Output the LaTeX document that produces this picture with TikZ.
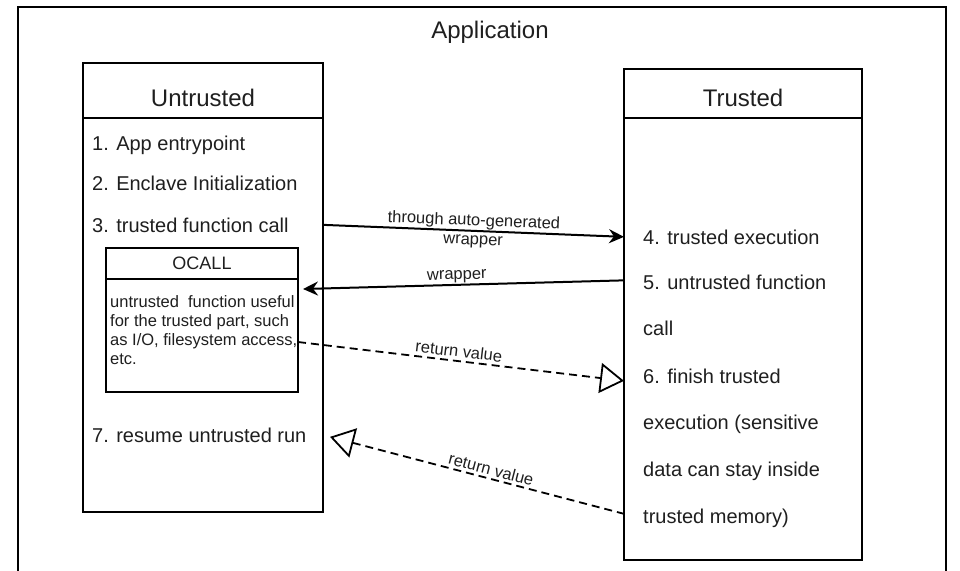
\documentclass[tikz,border=0pt]{standalone}
\usepackage{fontspec}
\setmainfont{Liberation Sans}
\usetikzlibrary{arrows.meta,calc}
\begin{document}
\begin{tikzpicture}[x=1pt,y=-1pt,
  every node/.style={text=black!88},
  box/.style={draw=black,line width=2pt,rectangle,inner sep=0pt,outer sep=0pt,anchor=north west},
  head/.style={font=\fontsize{24}{28}\selectfont,anchor=base,inner sep=0pt},
  item/.style={font=\fontsize{20}{24}\selectfont,anchor=base west,inner sep=0pt},
  small/.style={font=\fontsize{16.5}{19}\selectfont},
  solidarr/.style={line width=2pt,-{Stealth[length=15pt,width=14pt,inset=5pt]}},
  solidarrL/.style={line width=2pt,{Stealth[length=15pt,width=14pt,inset=5pt]}-},
  dasharrL/.style={line width=1.8pt,dash pattern=on 8pt off 5pt,{Triangle[fill=white,length=24pt,width=30pt]}-},
  dasharr/.style={line width=1.8pt,dash pattern=on 8pt off 5pt,-{Triangle[fill=white,length=24pt,width=30pt]}},
  lbl/.style={font=\fontsize{16.5}{19}\selectfont,sloped,inner sep=1pt}
]
\useasboundingbox (0,0) rectangle (960,570);
\fill[white] (0,0) rectangle (960,570);

% outer frame
\draw[line width=2pt] (18,575) -- (18,7) -- (946,7) -- (946,575);
\node[head] (app) at (490,38) {Application};

% untrusted
\node[box,minimum width=240pt,minimum height=55pt] (uhead) at (83,63) {};
\node[box,minimum width=240pt,minimum height=394pt] (ubody) at (83,118) {};
\node[head] (utitle) at (203,106) {Untrusted};
\node[item] (u1) at (92,150) {1. App entrypoint};
\node[item] (u2) at (92,190) {2. Enclave Initialization};
\node[item] (u3) at (92,232) {3. trusted function call};
\node[item] (u7) at (92,442) {7. resume untrusted run};

% OCALL
\node[box,minimum width=192pt,minimum height=31pt] (och) at (106,248) {};
\node[box,minimum width=192pt,minimum height=113pt] (ocb) at (106,279) {};
\node[font=\fontsize{18}{22}\selectfont,anchor=base,inner sep=0pt] (octitle) at (202,269) {OCALL};
\node[small,align=left,anchor=north west,inner sep=0pt] (octext) at (110,295)
  {untrusted\ \ function useful\\for the trusted part, such\\as I/O, filesystem access,\\etc.};

% trusted
\node[box,minimum width=238pt,minimum height=49pt] (thead) at (624,69) {};
\node[box,minimum width=238pt,minimum height=442pt] (tbody) at (624,118) {};
\node[head] (ttitle) at (743,106) {Trusted};
\node[item] (t1) at (643,244) {4. trusted execution};
\node[item] (t2) at (643,289) {5. untrusted function};
\node[item] (t3) at (643,335) {call};
\node[item] (t4) at (643,383) {6. finish trusted};
\node[item] (t5) at (643,429) {execution (sensitive};
\node[item] (t6) at (643,476) {data can stay inside};
\node[item] (t7) at (643,523) {trusted memory)};

% connectors
\draw[solidarr] (ubody.east |- u3.west) -- (tbody.west |- t1.west)
  node[lbl,midway,align=center] {through auto-generated\\wrapper};
\draw[solidarrL] ($(ocb.north east)+(5,10)$) -- ($(tbody.west |- t2.west)+(0,-1.5)$)
  node[lbl,above,pos=0.48] {wrapper};
\draw[dasharr] ($(ocb.north east)+(0,63)$) -- ($(tbody.west |- t4.west)+(0,5)$)
  node[lbl,above,pos=0.49,inner sep=3pt] {return value};
\draw[dasharrL] ($(ubody.east |- u7.west)+(7,2)$) -- ($(tbody.west |- t7.west)+(0,-4)$)
  node[lbl,above,pos=0.54,inner sep=2.5pt] {return value};
\end{tikzpicture}
\end{document}
